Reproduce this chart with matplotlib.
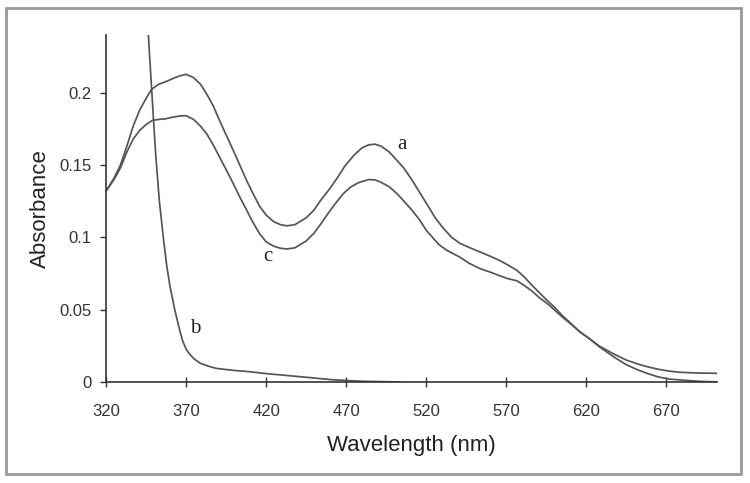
import matplotlib
matplotlib.use("Agg")
import matplotlib.pyplot as plt
from matplotlib.patches import Rectangle

# Curve a
wl_a = [320, 325, 329, 333, 337, 341, 345, 348.5, 353, 358, 362, 366, 370, 374.6,
        379, 383, 387, 391, 395, 399.6, 404, 408, 412, 416, 420, 424.6, 429, 433, 438,
        445, 450, 454, 460, 465, 469, 475, 480, 484, 488, 492, 497, 502, 506, 511, 516,
        521, 526, 531, 536, 541, 547, 553.75, 560, 566, 571, 576.7, 581, 586, 591, 595.4,
        600, 605, 610, 616, 622, 628, 637, 645, 652, 658, 665, 672, 679, 690, 702]
abs_a = [0.132, 0.141, 0.150, 0.163, 0.177, 0.188, 0.196, 0.2025, 0.206, 0.208, 0.210,
         0.2117, 0.2128, 0.2106, 0.206, 0.199, 0.191, 0.1807, 0.171, 0.160, 0.149, 0.139,
         0.130, 0.1215, 0.1155, 0.111, 0.1088, 0.108, 0.1088, 0.1135, 0.119, 0.1255, 0.134,
         0.142, 0.149, 0.157, 0.162, 0.164, 0.1645, 0.163, 0.159, 0.153, 0.148, 0.140, 0.131,
         0.122, 0.113, 0.106, 0.100, 0.096, 0.093, 0.0899, 0.087, 0.084, 0.081, 0.0772,
         0.073, 0.067, 0.0615, 0.0566, 0.052, 0.046, 0.041, 0.0347, 0.030, 0.025, 0.0195,
         0.0152, 0.0125, 0.0106, 0.0088, 0.0075, 0.0067, 0.0062, 0.006]

# Curve c
wl_c = [320, 325, 329, 333, 337, 341, 345, 349, 353.75, 357, 361, 366, 370, 374.6, 379, 383,
        387, 391, 395, 399.6, 404, 408, 412, 416, 420, 424.6, 429, 433, 438, 445, 450, 454,
        459, 463, 468, 473, 478, 484, 488, 492, 497, 502, 507, 511, 516, 520, 524, 528, 533,
        541, 547, 553.75, 560, 566, 571, 576.7, 581, 586, 591, 595.4, 600, 605, 610, 616,
        622, 628, 637, 645, 652, 658, 665, 672, 679, 690, 702]
abs_c = [0.132, 0.140, 0.148, 0.159, 0.168, 0.174, 0.178, 0.181, 0.1817, 0.182, 0.183, 0.184,
         0.1842, 0.1817, 0.177, 0.1715, 0.164, 0.1554, 0.147, 0.137, 0.127, 0.1186, 0.110,
         0.1025, 0.097, 0.094, 0.0925, 0.092, 0.0928, 0.0975, 0.103, 0.109, 0.117, 0.123,
         0.130, 0.135, 0.138, 0.140, 0.1398, 0.138, 0.135, 0.130, 0.124, 0.119, 0.112, 0.105,
         0.100, 0.095, 0.091, 0.0864, 0.082, 0.0784, 0.076, 0.0735, 0.0715, 0.0700, 0.067,
         0.063, 0.058, 0.0545, 0.050, 0.045, 0.0405, 0.0347, 0.030, 0.0245, 0.0175, 0.012,
         0.0085, 0.006, 0.0035, 0.002, 0.0014, 0.0005, 0.0]

# Curve b
wl_b = [345.5, 347, 348.5, 349.7, 351, 353.3, 356, 358, 360, 363, 366, 368, 370.4, 372.5,
        375, 379, 385, 389, 400, 410, 420, 441, 462, 480, 504]
abs_b = [0.26, 0.23, 0.203, 0.181, 0.158, 0.1255, 0.098, 0.08, 0.066, 0.0497, 0.036, 0.028,
         0.022, 0.019, 0.016, 0.0129, 0.0106, 0.0094, 0.008, 0.0071, 0.0058, 0.0037, 0.0015,
         0.0005, 0.0]

x_ticks = [320, 370, 420, 470, 520, 570, 620, 670]
y_ticks = [0, 0.05, 0.1, 0.15, 0.2]
y_ticklabels = ["0", "0.05", "0.1", "0.15", "0.2"]

fig = plt.figure(figsize=(7.5, 4.83), dpi=100)
ax = fig.add_axes([106/750, 101/483, (717-106)/750, (382-35)/483])

line_col = "#555555"
for wl, ab in ((wl_a, abs_a), (wl_c, abs_c), (wl_b, abs_b)):
    ax.plot(wl, ab, color=line_col, lw=1.25, solid_capstyle="butt",
            solid_joinstyle="round")

ax.set_xlim(320, 701.7)
ax.set_ylim(0, 0.24)
for s in ("top", "right"):
    ax.spines[s].set_visible(False)
for s in ("left", "bottom"):
    ax.spines[s].set_color("#333333")
    ax.spines[s].set_linewidth(1.2)

ax.set_xticks(x_ticks)
ax.set_xticklabels([str(v) for v in x_ticks])
ax.set_yticks(y_ticks)
ax.set_yticklabels(y_ticklabels)
ax.tick_params(axis="x", direction="inout", length=7, width=1, color="#333333",
               pad=12, labelsize=12, labelcolor="#333333")
ax.tick_params(axis="y", direction="out", length=4.5, width=1, color="#333333",
               pad=6, labelsize=12, labelcolor="#333333")
for lbl in ax.get_xticklabels() + ax.get_yticklabels():
    lbl.set_family("Liberation Sans")

ax.set_xlabel("Wavelength (nm)", fontsize=16, family="Liberation Sans",
              color="#222222", labelpad=12)
ax.set_ylabel("Absorbance", fontsize=16, family="Liberation Sans",
              color="#222222", labelpad=6)

serif = dict(family="Liberation Serif", fontsize=15, color="#222222",
             ha="center", va="center")
ax.text(504.8, 0.1646, "a", **serif)
ax.text(375.6, 0.0371, "b", **serif)
ax.text(421.4, 0.0867, "c", **serif)

fig.patches.append(Rectangle((6/750, 9/483), 735/750, 466/483, transform=fig.transFigure,
                             fill=False, edgecolor="#9a9a9a", linewidth=2))

fig.savefig("out.png", dpi=100)
